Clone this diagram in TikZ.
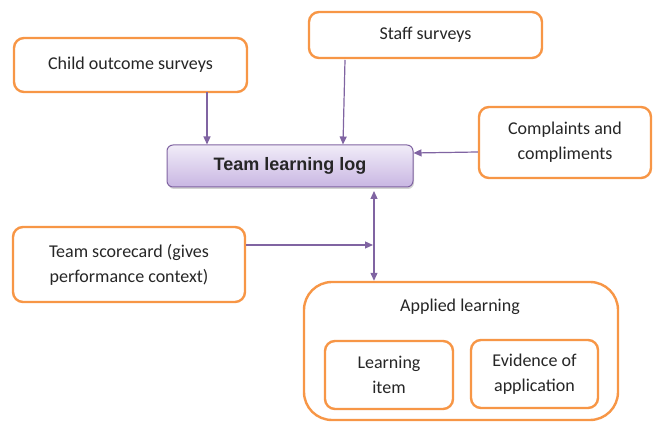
\documentclass[tikz,border=0pt]{standalone}
\usepackage{fontspec}
\setmainfont{Carlito}
\newfontfamily\boldsans{Liberation Sans}
\usetikzlibrary{arrows.meta,shadows}
\definecolor{orng}{HTML}{F79646}
\definecolor{purp}{HTML}{8064A2}
\definecolor{lavtop}{HTML}{F1ECF8}
\definecolor{lavbot}{HTML}{C8B6E2}
\definecolor{txt}{HTML}{262626}
\begin{document}
\begin{tikzpicture}[x=1pt,y=1pt,
  obox/.style={draw=orng, line width=2.4pt, rounded corners=10pt, fill=white,
    align=center, text=txt, inner sep=0pt,
    font=\fontsize{18}{25}\selectfont},
  arr/.style={draw=purp, line width=1.2pt, -{Triangle[length=8pt,width=7pt]}},
  darr/.style={draw=purp, line width=1.2pt, {Triangle[length=8pt,width=7pt]}-{Triangle[length=8pt,width=7pt]}},
  logbox/.style={draw=purp, line width=1pt, rounded corners=6pt,
    top color=lavtop, bottom color=lavbot,
    drop shadow={shadow xshift=1pt, shadow yshift=-2pt, opacity=0.35},
    text=txt, inner sep=0pt,
    font=\boldsans\bfseries\fontsize{18}{20}\selectfont}
]
\useasboundingbox (0,0) rectangle (654,422);

\node[obox, minimum width=233pt, minimum height=54pt] (child) at (130.5,357) {Child outcome surveys};
\node[obox, minimum width=233pt, minimum height=46pt] (staff) at (425.5,387) {Staff surveys};
\node[obox, minimum width=172pt, minimum height=71pt] (comp) at (565,279.5) {Complaints and\\compliments};
\node[logbox, minimum width=246pt, minimum height=42pt] (log) at (290,256) {Team learning log};
\node[obox, minimum width=232pt, minimum height=75pt] (score) at (129,157.5) {Team scorecard (gives\\performance context)};
\node[obox, rounded corners=28pt, minimum width=314pt, minimum height=138pt] (applied) at (461,71) {};
\node[text=txt, font=\fontsize{18}{25}\selectfont] (title) at (460,115) {Applied learning};
\node[obox, minimum width=128pt, minimum height=68pt] (item) at (389,47) {Learning\\item};
\node[obox, minimum width=127pt, minimum height=68pt] (evid) at (534.5,48) {Evidence of\\application};

\coordinate (c1) at (207,330);
\coordinate (s1) at (345,362);
\coordinate (s2) at (343,0);
\coordinate (v) at (374,0);
\coordinate (vtop) at (374,231);
\coordinate (h1) at (373,177);

\draw[arr] (c1) -- (c1 |- log.north);
\draw[arr] (s1) -- (s2 |- log.north);
\draw[arr] ([yshift=-9.5pt]comp.west) -- ([yshift=13pt]log.east);
\draw[darr] (vtop) -- (v |- applied.north);
\draw[arr] ([yshift=19.5pt]score.east) -- (h1);
\end{tikzpicture}
\end{document}
